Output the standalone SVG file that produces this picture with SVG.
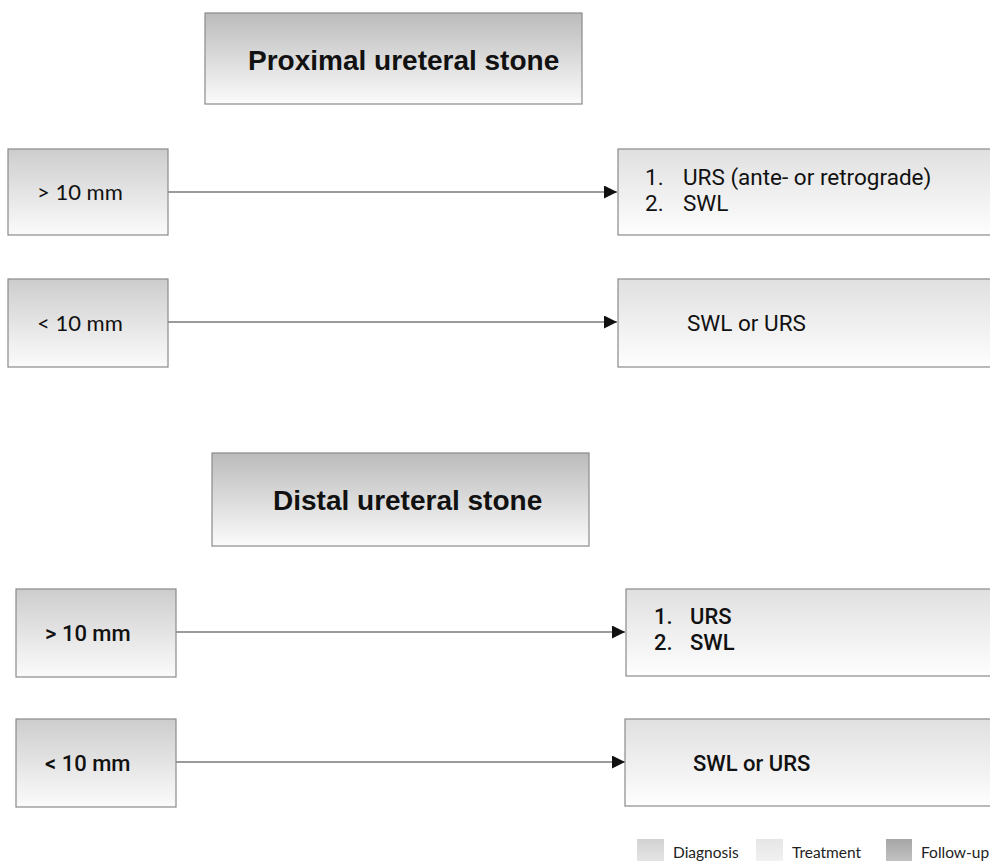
<svg xmlns="http://www.w3.org/2000/svg" width="990" height="861" viewBox="0 0 990 861">
<defs>
<linearGradient id="gTitle" x1="0" y1="0" x2="0" y2="1"><stop offset="0" stop-color="#bbbbbb"/><stop offset="1" stop-color="#fbfbfb"/></linearGradient>
<linearGradient id="gLeft" x1="0" y1="0" x2="0" y2="1"><stop offset="0" stop-color="#cdcdcd"/><stop offset="1" stop-color="#fbfbfb"/></linearGradient>
<linearGradient id="gRight" x1="0" y1="0" x2="0" y2="1"><stop offset="0" stop-color="#e0e0e0"/><stop offset="1" stop-color="#fefefe"/></linearGradient>
<linearGradient id="gDiag" x1="0" y1="0" x2="0" y2="1"><stop offset="0" stop-color="#d2d2d2"/><stop offset="1" stop-color="#e6e6e6"/></linearGradient>
<linearGradient id="gTreat" x1="0" y1="0" x2="0" y2="1"><stop offset="0" stop-color="#e6e6e6"/><stop offset="1" stop-color="#f2f2f2"/></linearGradient>
<linearGradient id="gFollow" x1="0" y1="0" x2="0" y2="1"><stop offset="0" stop-color="#a6a6a6"/><stop offset="1" stop-color="#c4c4c4"/></linearGradient>
<marker id="arr" viewBox="0 0 10 10" refX="10" refY="5" markerWidth="16" markerHeight="13" markerUnits="userSpaceOnUse" orient="auto"><path d="M0,0 L10,5 L0,10 Z" fill="#111"/></marker>
</defs>
<style>
.box{stroke:#8a8a8a;stroke-width:1.2}
.title{font-family:"Liberation Sans",Arial,sans-serif;font-weight:bold;font-size:28px;fill:#111}
.lt{font-family:Lato,"Liberation Sans",sans-serif;font-size:22px;fill:#111}
.rt{font-family:Roboto,"Liberation Sans",sans-serif;font-size:22.5px;fill:#111}
.lb{font-family:Roboto,"Liberation Sans",sans-serif;font-size:22px;font-weight:500;fill:#111}
.leg{font-family:Lato,"Liberation Sans",sans-serif;font-size:15.5px;fill:#222}
.conn{stroke:#7a7a7a;stroke-width:1.6;fill:none}
</style>
<g id="connectors">
<line class="conn" x1="168" y1="192" x2="617" y2="192" marker-end="url(#arr)"/>
<line class="conn" x1="168" y1="322" x2="617" y2="322" marker-end="url(#arr)"/>
<line class="conn" x1="176" y1="632" x2="625" y2="632" marker-end="url(#arr)"/>
<line class="conn" x1="176" y1="762" x2="625" y2="762" marker-end="url(#arr)"/>
</g>
<g id="title1"><rect class="box" x="205" y="13" width="377" height="91" fill="url(#gTitle)"/><text class="title" x="248" y="70">Proximal ureteral stone</text></g>
<g id="p_gt10"><rect class="box" x="8" y="149" width="160" height="86" fill="url(#gLeft)"/><text class="lt" x="37" y="200">&gt; 10 mm</text></g>
<g id="p_gt10_tx"><rect class="box" x="618" y="149" width="380" height="86" fill="url(#gRight)"/><text class="rt" x="645" y="185">1.</text><text class="rt" x="683" y="185">URS (ante- or retrograde)</text><text class="rt" x="645" y="211">2.</text><text class="rt" x="683" y="211">SWL</text></g>
<g id="p_lt10"><rect class="box" x="8" y="279" width="160" height="88" fill="url(#gLeft)"/><text class="lt" x="37" y="331">&lt; 10 mm</text></g>
<g id="p_lt10_tx"><rect class="box" x="618" y="279" width="380" height="88" fill="url(#gRight)"/><text class="rt" x="687" y="331">SWL or URS</text></g>
<g id="title2"><rect class="box" x="212" y="453" width="377" height="93" fill="url(#gTitle)"/><text class="title" x="273" y="510">Distal ureteral stone</text></g>
<g id="d_gt10"><rect class="box" x="16" y="589" width="160" height="88" fill="url(#gLeft)"/><text class="lb" x="45" y="641">&gt; 10 mm</text></g>
<g id="d_gt10_tx"><rect class="box" x="626" y="589" width="372" height="87" fill="url(#gRight)"/><text class="lb" x="654" y="624">1.</text><text class="lb" x="690" y="624">URS</text><text class="lb" x="654" y="650">2.</text><text class="lb" x="690" y="650">SWL</text></g>
<g id="d_lt10"><rect class="box" x="16" y="719" width="160" height="88" fill="url(#gLeft)"/><text class="lb" x="45" y="771">&lt; 10 mm</text></g>
<g id="d_lt10_tx"><rect class="box" x="625" y="719" width="373" height="87" fill="url(#gRight)"/><text class="lb" x="693" y="771">SWL or URS</text></g>
<g id="legend">
<rect x="637" y="839" width="27" height="24" fill="url(#gDiag)"/><text class="leg" x="673" y="858">Diagnosis</text>
<rect x="756" y="839" width="27" height="24" fill="url(#gTreat)"/><text class="leg" x="792" y="858">Treatment</text>
<rect x="886" y="839" width="26" height="24" fill="url(#gFollow)"/><text class="leg" x="921" y="858">Follow-up</text>
</g>
</svg>
